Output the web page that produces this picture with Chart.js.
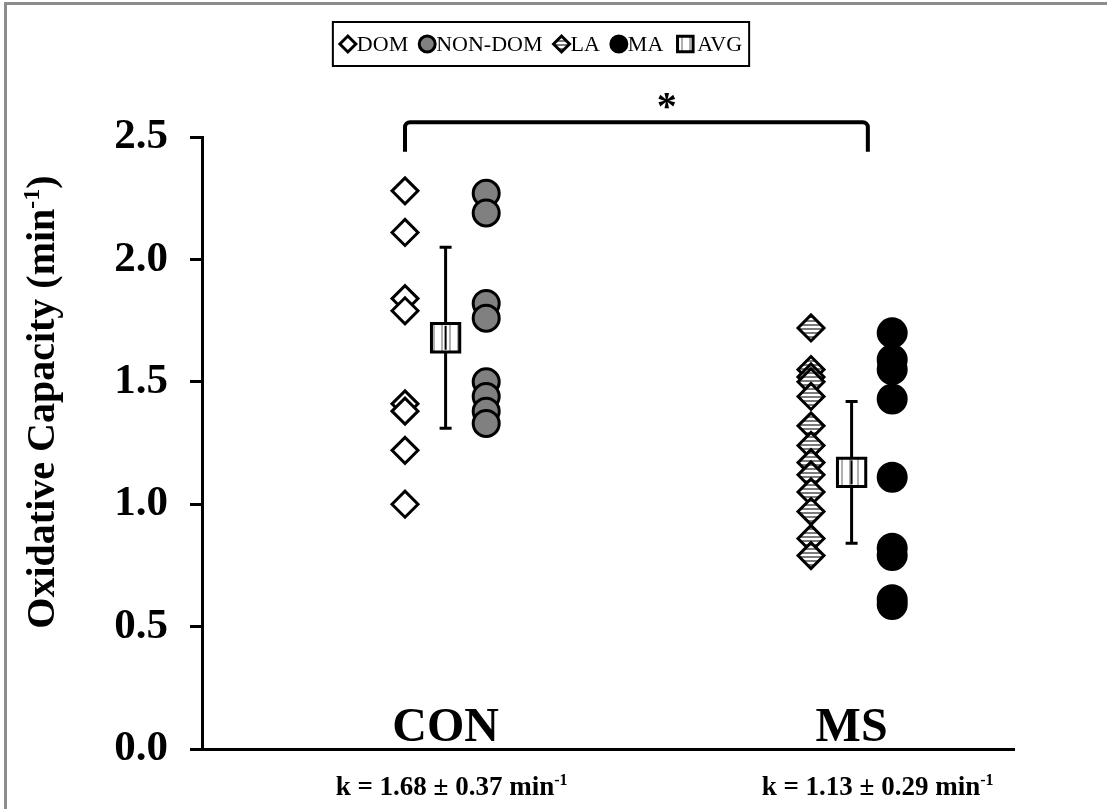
<!DOCTYPE html>
<html>
<head>
<meta charset="utf-8">
<script src="https://cdn.jsdelivr.net/npm/chart.js@4.4.1/dist/chart.umd.min.js"></script>
<style>
  body { margin: 0; background: #fff; }
  #frame { position: absolute; left: 4px; top: 2px; width: 1200px; height: 900px;
           border-top: 3px solid #8c8c8c; border-left: 3px solid #8c8c8c; }
  #chart { position: absolute; left: 0; top: 0; }
</style>
</head>
<body>
<div id="frame"></div>
<canvas id="chart" width="1107" height="809"></canvas>
<script>
// groups and values
var groupLabels = ['CON', 'MS'];
var groupX = [1.2, 3.2];
var domX = 1.0, nonDomX = 1.4, laX = 3.0, maX = 3.4;

var domValues = [2.28, 2.11, 1.84, 1.79, 1.41, 1.38, 1.22, 1.00];
var nonDomValues = [2.27, 2.19, 1.82, 1.76, 1.50, 1.44, 1.38, 1.33];
var laValues = [1.72, 1.55, 1.52, 1.50, 1.44, 1.32, 1.24, 1.17, 1.12, 1.05, 0.97, 0.86, 0.79];
var maValues = [1.70, 1.59, 1.55, 1.43, 1.11, 0.82, 0.79, 0.61, 0.59];
var avgValues = [1.68, 1.13];
var avgSD = [0.37, 0.29];
var yTicks = [0, 0.5, 1.0, 1.5, 2.0, 2.5];

var serif = "'Liberation Serif', 'Times New Roman', serif";

function stripes(w, h, dark, vertical) {
    var c = document.createElement('canvas');
    c.width = w; c.height = h;
    var g = c.getContext('2d');
    g.fillStyle = '#fff';
    g.fillRect(0, 0, w, h);
    g.fillStyle = dark;
    if (vertical) g.fillRect(1, 0, 2, h);
    else g.fillRect(0, 0, w, Math.floor(h / 2));
    return g.createPattern(c, 'repeat');
}
var laFill = stripes(4, 4, '#7a7a7a', false);
var avgFill = stripes(8, 4, '#b0b0b0', true);

function pts(x, vals) {
    return vals.map(function (v) { return {x: x, y: v}; });
}

var datasets = [
    {label: 'DOM', data: pts(domX, domValues), pointStyle: 'rectRot', radius: 13,
     backgroundColor: '#fff', borderColor: '#000', borderWidth: 3},
    {label: 'NON-DOM', data: pts(nonDomX, nonDomValues), pointStyle: 'circle', radius: 13,
     backgroundColor: '#808080', borderColor: '#000', borderWidth: 3},
    {label: 'LA', data: pts(laX, laValues), pointStyle: 'rectRot', radius: 13,
     backgroundColor: laFill, borderColor: '#000', borderWidth: 3},
    {label: 'MA', data: pts(maX, maValues), pointStyle: 'circle', radius: 14.5,
     backgroundColor: '#000', borderColor: '#000', borderWidth: 2},
    {label: 'AVG', data: groupX.map(function (x, i) { return {x: x, y: avgValues[i]}; }),
     pointStyle: 'rect', radius: 20, backgroundColor: avgFill, borderColor: '#000', borderWidth: 3}
];
var legendRadius = [8, 8, 8, 8, 11];

function textSup(ctx, base, sup, tail, x, y, size) {
    var big = 'bold ' + size + 'px ' + serif;
    var small = 'bold ' + Math.round(size * 0.6) + 'px ' + serif;
    ctx.font = big;
    var w1 = ctx.measureText(base).width;
    var w3 = ctx.measureText(tail).width;
    ctx.font = small;
    var w2 = ctx.measureText(sup).width;
    var left = x - (w1 + w2 + w3) / 2;
    ctx.textAlign = 'left';
    ctx.textBaseline = 'alphabetic';
    ctx.font = big;
    ctx.fillText(base, left, y);
    if (tail) ctx.fillText(tail, left + w1 + w2, y);
    ctx.font = small;
    ctx.fillText(sup, left + w1, y - size * 0.38);
}

var extras = {
    id: 'extras',
    beforeDatasetsDraw: function (chart) {
        // error bars of the averages
        var ctx = chart.ctx, xs = chart.scales.x, ys = chart.scales.y;
        ctx.save();
        ctx.strokeStyle = '#000';
        ctx.lineWidth = 3;
        groupX.forEach(function (gx, i) {
            var px = xs.getPixelForValue(gx);
            var top = ys.getPixelForValue(avgValues[i] + avgSD[i]);
            var bot = ys.getPixelForValue(avgValues[i] - avgSD[i]);
            ctx.beginPath();
            ctx.moveTo(px, top); ctx.lineTo(px, bot);
            ctx.moveTo(px - 6, top); ctx.lineTo(px + 6, top);
            ctx.moveTo(px - 6, bot); ctx.lineTo(px + 6, bot);
            ctx.stroke();
        });
        ctx.restore();
    },
    afterDraw: function (chart) {
        var ctx = chart.ctx, xs = chart.scales.x, ys = chart.scales.y;
        var area = chart.chartArea;
        ctx.save();
        ctx.fillStyle = '#000';

        // line through the average boxes
        ctx.strokeStyle = '#000';
        ctx.lineWidth = 2;
        groupX.forEach(function (gx, i) {
            var px = xs.getPixelForValue(gx), py = ys.getPixelForValue(avgValues[i]);
            ctx.beginPath();
            ctx.moveTo(px, py - 12); ctx.lineTo(px, py + 12);
            ctx.stroke();
        });

        // group names inside the plot, k values below the axis
        groupLabels.forEach(function (g, i) {
            var px = xs.getPixelForValue(groupX[i]);
            ctx.font = 'bold 48px ' + serif;
            ctx.textAlign = 'center';
            ctx.textBaseline = 'alphabetic';
            ctx.fillText(g, px, area.bottom - 8);
            var base = 'k = ' + avgValues[i].toFixed(2) + ' \u00b1 ' + avgSD[i].toFixed(2) + ' min';
            textSup(ctx, base, '-1', '', px + 6 + i * 20, area.bottom + 46, 27);
        });

        // y axis title
        ctx.save();
        ctx.translate(54, (area.top + area.bottom) / 2 - 41);
        ctx.rotate(-Math.PI / 2);
        textSup(ctx, 'Oxidative Capacity (min', '-1', ')', 0, 0, 40);
        ctx.restore();

        // significance bracket
        var x1 = xs.getPixelForValue(domX), x2 = xs.getPixelForValue(3.28);
        var yTop = ys.getPixelForValue(2.56), yLeg = ys.getPixelForValue(2.44);
        ctx.lineWidth = 4;
        ctx.beginPath();
        ctx.moveTo(x1, yLeg);
        ctx.arcTo(x1, yTop, x1 + 6, yTop, 5);
        ctx.lineTo(x2 - 6, yTop);
        ctx.arcTo(x2, yTop, x2, yLeg, 5);
        ctx.lineTo(x2, yLeg);
        ctx.stroke();
        ctx.font = 'bold 40px ' + serif;
        ctx.textAlign = 'center';
        ctx.textBaseline = 'middle';
        ctx.fillText('*', xs.getPixelForValue(2.29), yTop - 14);

        // legend box
        ctx.font = '22px ' + serif;
        ctx.textBaseline = 'middle';
        ctx.textAlign = 'left';
        var items = chart.data.datasets;
        var widths = items.map(function (d, i) { return 2 * legendRadius[i] + 1 + ctx.measureText(d.label).width; });
        var gap = 11;
        var total = widths.reduce(function (a, b) { return a + b; }, 0) + gap * (items.length - 1);
        var cx = 541, cy = 44;
        var lx = cx - total / 2;
        ctx.lineWidth = 2;
        ctx.strokeStyle = '#000';
        ctx.strokeRect(cx - total / 2 - 7, 22, total + 14, 44);
        items.forEach(function (d, i) {
            var r = legendRadius[i];
            ctx.fillStyle = d.backgroundColor;
            ctx.strokeStyle = d.borderColor;
            ctx.lineWidth = 3;
            Chart.helpers.drawPoint(ctx, {pointStyle: d.pointStyle, radius: r, borderWidth: 3, rotation: 0}, lx + r, cy);
            ctx.fillStyle = '#000';
            ctx.fillText(d.label, lx + 2 * r + 1, cy + 1);
            lx += widths[i] + gap;
        });
        ctx.restore();
    }
};

new Chart(document.getElementById('chart'), {
    type: 'scatter',
    data: {datasets: datasets},
    options: {
        responsive: false,
        animation: false,
        layout: {padding: {top: 137, right: 93, left: 0, bottom: 0}},
        plugins: {legend: {display: false}, tooltip: {enabled: false}},
        scales: {
            x: {
                type: 'linear', min: 0, max: 4,
                ticks: {display: false},
                grid: {display: false},
                border: {display: true, color: '#000', width: 3},
                afterFit: function (s) { s.height = 60; }
            },
            y: {
                min: 0, max: 2.5,
                afterBuildTicks: function (s) { s.ticks = yTicks.map(function (v) { return {value: v}; }); },
                ticks: {
                    color: '#000', padding: 22,
                    font: {family: serif, size: 43, weight: 'bold'},
                    callback: function (v) { return Number(v).toFixed(1); }
                },
                grid: {drawOnChartArea: false, drawTicks: true, tickLength: 12, color: '#000', lineWidth: 3},
                border: {display: true, color: '#000', width: 3},
                afterFit: function (s) { s.width = 202; }
            }
        }
    },
    plugins: [extras]
});
</script>
</body>
</html>
